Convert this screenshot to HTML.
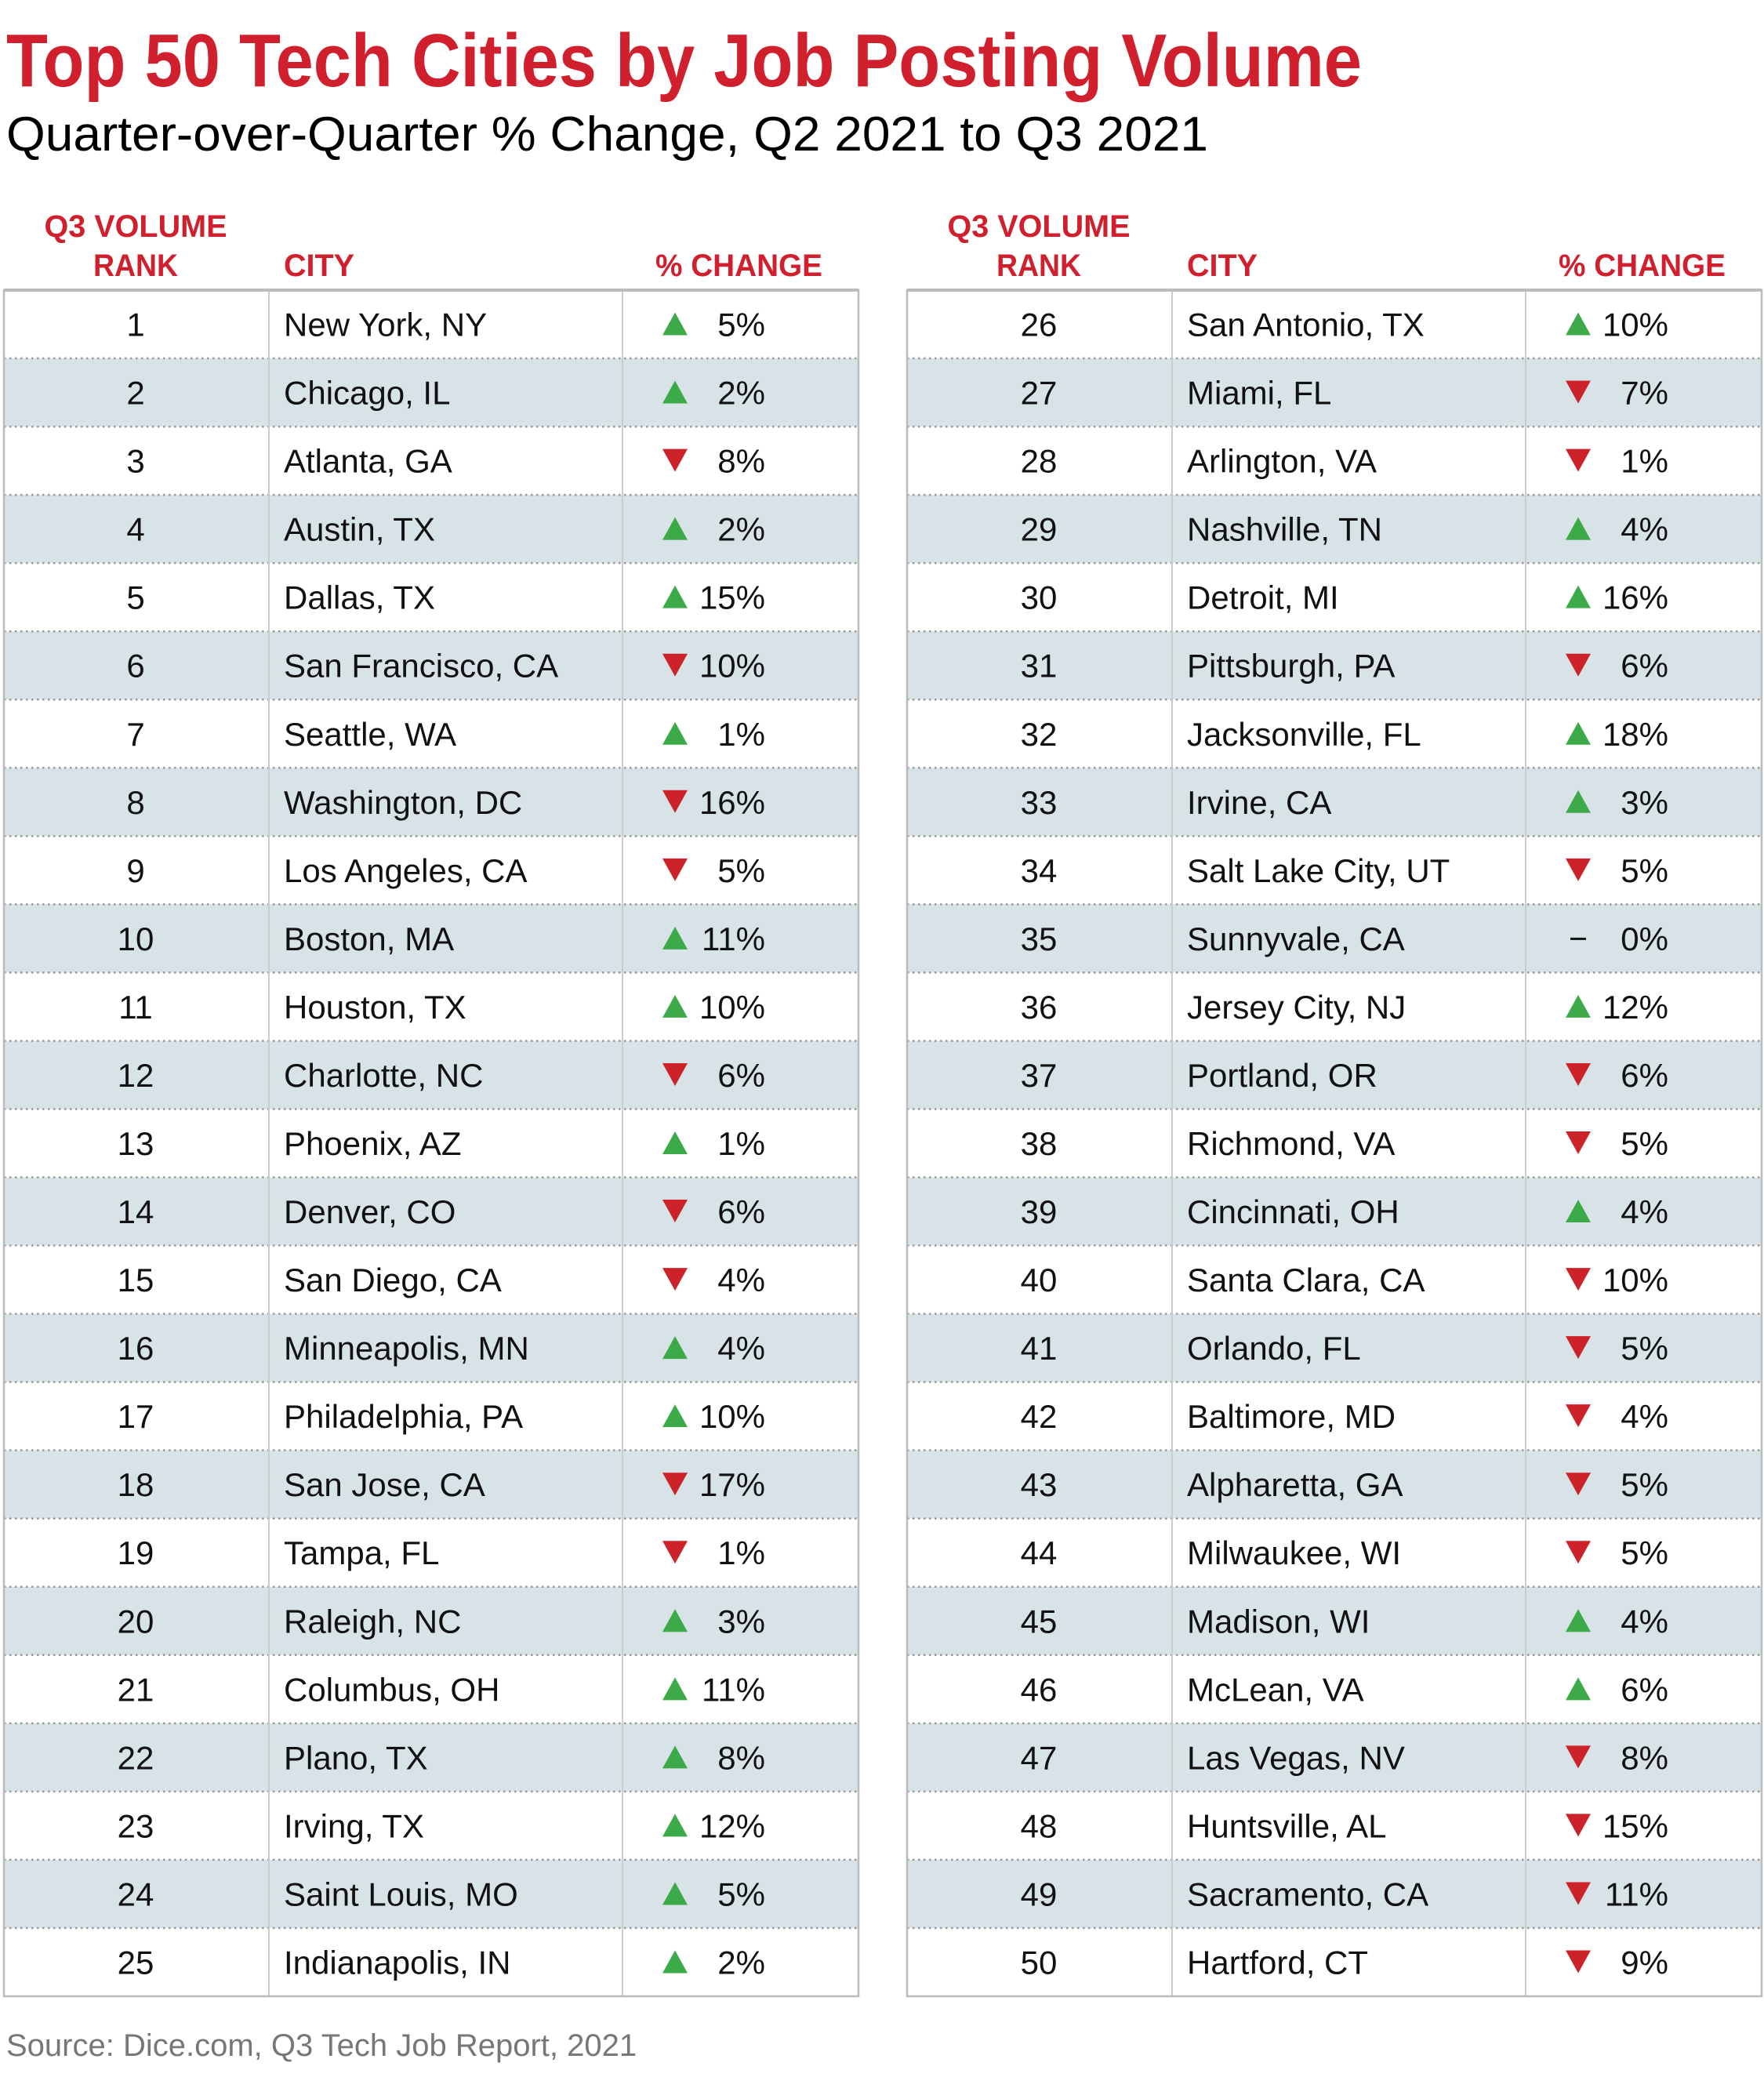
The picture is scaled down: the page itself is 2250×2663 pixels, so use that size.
<!DOCTYPE html>
<html><head><meta charset="utf-8"><style>
html,body{margin:0;padding:0;background:#fff;}
svg{display:block;font-family:"Liberation Sans",sans-serif;}
</style></head><body>
<svg id="chart" width="2250" height="2663" viewBox="0 0 2250 2663" xmlns="http://www.w3.org/2000/svg">
<rect width="2250" height="2663" fill="#fff"/>
<text x="8" y="110" font-size="96" font-weight="bold" fill="#d0202e" textLength="1729" lengthAdjust="spacingAndGlyphs">Top 50 Tech Cities by Job Posting Volume</text>
<text x="8" y="192" font-size="62" fill="#000" textLength="1533" lengthAdjust="spacingAndGlyphs">Quarter-over-Quarter % Change, Q2 2021 to Q3 2021</text>
<g id="tables"></g>
<text x="8" y="2622" font-size="40" fill="#777">Source: Dice.com, Q3 Tech Job Report, 2021</text>
</svg>
<script>
const cities = ["New York, NY","Chicago, IL","Atlanta, GA","Austin, TX","Dallas, TX","San Francisco, CA","Seattle, WA","Washington, DC","Los Angeles, CA","Boston, MA","Houston, TX","Charlotte, NC","Phoenix, AZ","Denver, CO","San Diego, CA","Minneapolis, MN","Philadelphia, PA","San Jose, CA","Tampa, FL","Raleigh, NC","Columbus, OH","Plano, TX","Irving, TX","Saint Louis, MO","Indianapolis, IN","San Antonio, TX","Miami, FL","Arlington, VA","Nashville, TN","Detroit, MI","Pittsburgh, PA","Jacksonville, FL","Irvine, CA","Salt Lake City, UT","Sunnyvale, CA","Jersey City, NJ","Portland, OR","Richmond, VA","Cincinnati, OH","Santa Clara, CA","Orlando, FL","Baltimore, MD","Alpharetta, GA","Milwaukee, WI","Madison, WI","McLean, VA","Las Vegas, NV","Huntsville, AL","Sacramento, CA","Hartford, CT"];
const changes = [5,2,-8,2,15,-10,1,-16,-5,11,10,-6,1,-6,-4,4,10,-17,-1,3,11,8,12,5,2,10,-7,-1,4,16,-6,18,3,-5,0,12,-6,-5,4,-10,-5,-4,-5,-5,4,6,-8,-15,-11,-9];
const ranks = cities.map((c,i)=>i+1);

const SVGNS="http://www.w3.org/2000/svg";
const tablesGroup=document.getElementById('tables');
const tableLefts=[5,1157], tableWidth=1090, tableTop=370, rowHeight=87.04, perTable=25;
function mk(t,a,p){const e=document.createElementNS(SVGNS,t);for(const k in a)e.setAttribute(k,a[k]);(p||tablesGroup).appendChild(e);return e;}
function mkText(s,a,p){const e=mk('text',a,p);e.textContent=s;return e;}

tableLefts.forEach((L,ti)=>{
  const tg=mk('g',{});
  
  
  const h1=mkText('Q3 VOLUME',{x:L+168,y:302,'font-size':40,'font-weight':'bold',fill:'#d0202e','text-anchor':'middle',textLength:233,lengthAdjust:'spacingAndGlyphs'},tg);
  
  
  const h2=mkText('RANK',{x:L+168,y:352,'font-size':40,'font-weight':'bold',fill:'#d0202e','text-anchor':'middle',textLength:108,lengthAdjust:'spacingAndGlyphs'},tg);
  
  
  const h3=mkText('CITY',{x:L+357,y:352,'font-size':40,'font-weight':'bold',fill:'#d0202e',textLength:90,lengthAdjust:'spacingAndGlyphs'},tg);
  
  
  const h4=mkText('% CHANGE',{x:L+831,y:352,'font-size':40,'font-weight':'bold',fill:'#d0202e',textLength:213,lengthAdjust:'spacingAndGlyphs'},tg);
  
  
  for(let r=0;r<perTable;r++){
    const i=ti*perTable+r;
    const y=tableTop+r*rowHeight;
    const rg=mk('g',{},tg);
    
    
    if(r%2===1) mk('rect',{x:L,y:y,width:tableWidth,height:rowHeight,fill:'#d8e3e7'},rg);
    const cy=y+rowHeight/2;
    mkText(String(ranks[i]),{x:L+168,y:cy+15,'font-size':42,fill:'#111','text-anchor':'middle'},rg);
    mkText(cities[i],{x:L+357,y:cy+15,'font-size':42,fill:'#111'},rg);
    const v=changes[i];
    const tx=L+856;
    if(v>0){
      const t=mk('polygon',{points:`${tx-16},${cy+14} ${tx+16},${cy+14} ${tx},${cy-15}`,fill:'#3daa4a'},rg);
      
      
    } else if(v<0){
      const t=mk('polygon',{points:`${tx-16},${cy-15} ${tx+16},${cy-15} ${tx},${cy+14}`,fill:'#cc2229'},rg);
      
      
    } else {
      mk('rect',{x:tx-10,y:cy-1,width:20,height:3,fill:'#111'},rg);
    }
    mkText(Math.abs(v)+'%',{x:L+971,y:cy+15,'font-size':42,fill:'#111','text-anchor':'end'},rg);
    if(r>0) mk('line',{x1:L,x2:L+tableWidth,y1:y,y2:y,stroke:'#999','stroke-width':2.5,'stroke-dasharray':'2.5 4.5'},rg);
  }
  const tableBottom=tableTop+perTable*rowHeight;
  mk('line',{x1:L+338,x2:L+338,y1:tableTop,y2:tableBottom,stroke:'#ccc','stroke-width':2},tg);
  mk('line',{x1:L+789,x2:L+789,y1:tableTop,y2:tableBottom,stroke:'#ccc','stroke-width':2},tg);
  mk('rect',{x:L,y:tableTop,width:tableWidth,height:tableBottom-tableTop,fill:'none',stroke:'#bbb','stroke-width':2.5},tg);
  mk('line',{x1:L,x2:L+tableWidth,y1:tableTop,y2:tableTop,stroke:'#bbb','stroke-width':4},tg);
});
</script>
</body></html>
